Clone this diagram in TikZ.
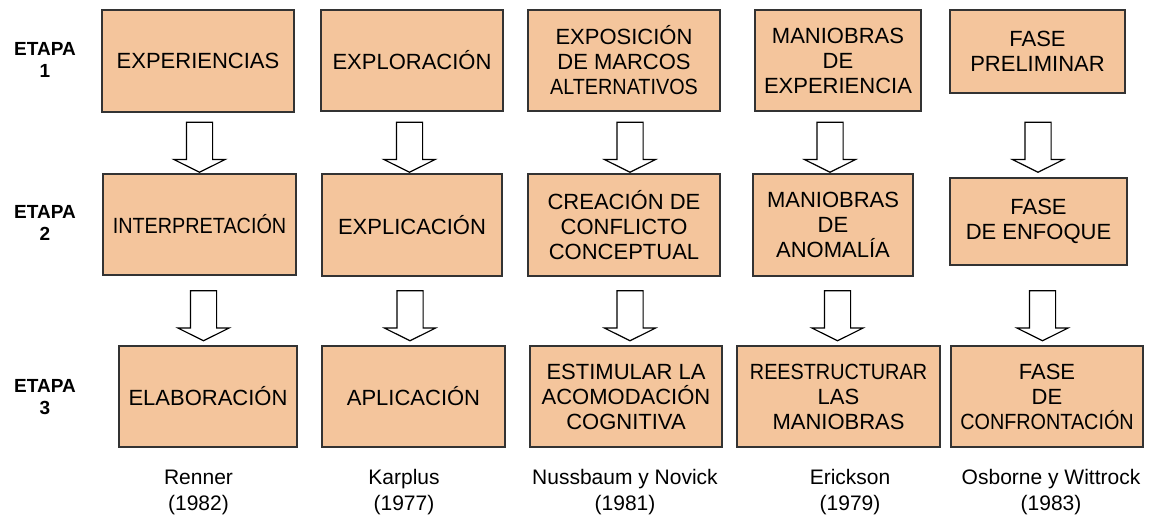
\documentclass[tikz,border=0pt]{standalone}
\usepackage{fontspec}
\setmainfont{Liberation Sans}
\newfontfamily\narrowsf{Liberation Sans}[FakeStretch=0.9]
\usetikzlibrary{shapes.arrows}
\definecolor{Peach}{HTML}{F4C59C}
\definecolor{Edge}{HTML}{333333}

\begin{document}
\begin{tikzpicture}[
    x=0.5pt, y=-0.5pt,
    stagebox/.style={draw=Edge, line width=0.8pt, fill=Peach, align=center, inner sep=0pt, font=\fontsize{11}{12.5}\selectfont},
    etapa/.style={align=center, font=\bfseries\fontsize{9.5}{11}\selectfont},
    autor/.style={align=center, font=\fontsize{10.5}{13}\selectfont},
    hollow/.style={single arrow, draw=black, fill=white, line width=0.6pt, minimum height=25pt, minimum width=25pt, single arrow head extend=6.25pt, single arrow tip angle=127, inner sep=6.25pt, rotate=-90}
]
\useasboundingbox (0,0) rectangle (1156,516);

% Stage labels
\node[etapa] (et1) at (45,60) {ETAPA\\1};
\node[etapa] (et2) at (45,223) {ETAPA\\2};
\node[etapa] (et3) at (45,397) {ETAPA\\3};

% Stage 1
\node[stagebox, minimum width=96pt, minimum height=51pt] (expe) at (198,61) {EXPERIENCIAS};
\node[stagebox, minimum width=91pt, minimum height=50.5pt] (explo) at (412,60.5) {EXPLORACIÓN};
\node[stagebox, minimum width=96pt, minimum height=50.5pt] (expos) at (624,60.5) {EXPOSICIÓN\\DE MARCOS\\{\narrowsf ALTERNATIVOS}};
\node[stagebox, minimum width=83pt, minimum height=50.5pt] (maniexp) at (838,60.5) {MANIOBRAS\\DE\\EXPERIENCIA};
\node[stagebox, minimum width=87.5pt, minimum height=41.5pt] (prelim) at (1037.5,51.5) {FASE\\PRELIMINAR};

% Stage 2
\node[stagebox, minimum width=96.5pt, minimum height=50.5pt] (interp) at (199.5,224.5) {\narrowsf INTERPRETACIÓN};
\node[stagebox, minimum width=90pt, minimum height=51pt] (explic) at (412,225) {EXPLICACIÓN};
\node[stagebox, minimum width=96pt, minimum height=51pt] (conflicto) at (624,225) {CREACIÓN DE\\CONFLICTO\\CONCEPTUAL};
\node[stagebox, minimum width=80pt, minimum height=51pt] (anomalia) at (833,225) {MANIOBRAS\\DE\\ANOMALÍA};
\node[stagebox, minimum width=88.5pt, minimum height=43.5pt] (enfoque) at (1038.5,221.5) {FASE\\DE ENFOQUE};

% Stage 3
\node[stagebox, minimum width=89pt, minimum height=50.5pt] (elab) at (208,396.5) {ELABORACIÓN};
\node[stagebox, minimum width=91.5pt, minimum height=50.5pt] (aplic) at (413.5,396.5) {APLICACIÓN};
\node[stagebox, minimum width=96pt, minimum height=50.5pt] (estim) at (626,396.5) {ESTIMULAR LA\\ACOMODACIÓN\\COGNITIVA};
\node[stagebox, minimum width=101.5pt, minimum height=50.5pt] (reestr) at (838.5,396.5) {{\narrowsf REESTRUCTURAR}\\LAS\\MANIOBRAS};
\node[stagebox, minimum width=96pt, minimum height=50.5pt] (confront) at (1047,396.5) {FASE\\DE\\{\narrowsf CONFRONTACIÓN}};

% Hollow arrows, stage 1 to 2
\node[hollow] (renner12) at (199.5,144) {};
\node[hollow] (karplus12) at (409.5,144) {};
\node[hollow] (nussbaum12) at (630,144) {};
\node[hollow] (erickson12) at (830,144) {};
\node[hollow] (osborne12) at (1038,144) {};

% Hollow arrows, stage 2 to 3
\node[hollow] (renner23) at (203.5,312.5) {};
\node[hollow] (karplus23) at (410,312.5) {};
\node[hollow] (nussbaum23) at (630,312.5) {};
\node[hollow] (erickson23) at (837.5,312.5) {};
\node[hollow] (osborne23) at (1042.5,312.5) {};

% Authors
\node[autor] (renner) at (198.5,492) {Renner\\(1982)};
\node[autor] (karplus) at (404,492) {Karplus\\(1977)};
\node[autor] (nussbaum) at (625,492) {Nussbaum y Novick\\(1981)};
\node[autor] (erickson) at (850,492) {Erickson\\(1979)};
\node[autor] (osborne) at (1051,492) {Osborne y Wittrock\\(1983)};

\end{tikzpicture}
\end{document}
